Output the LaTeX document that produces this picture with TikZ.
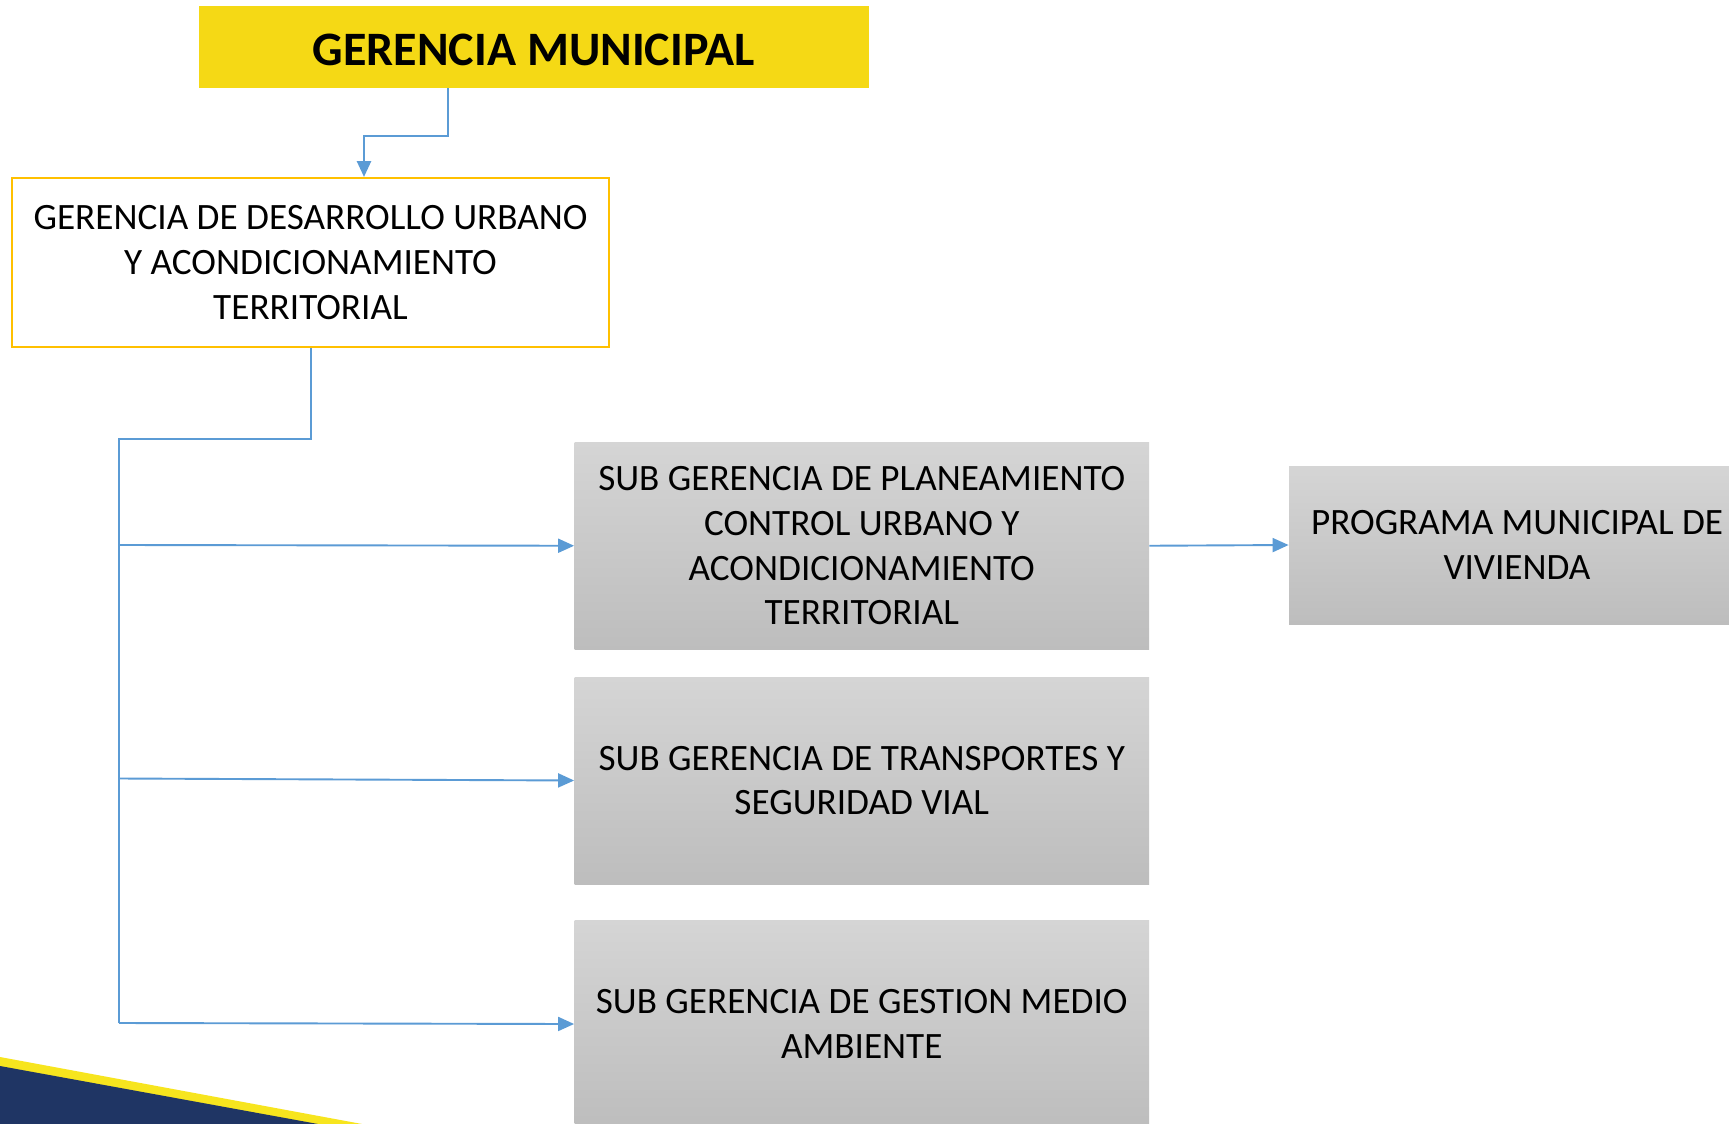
\documentclass[tikz,border=0pt]{standalone}
\usepackage{fontspec}
\setmainfont{Carlito}
\usetikzlibrary{arrows.meta}
\definecolor{gmyellow}{HTML}{F5D915}
\definecolor{gduborder}{HTML}{FFC000}
\definecolor{conn}{HTML}{5B9BD5}
\definecolor{navy}{HTML}{1F3564}
\definecolor{stripe}{HTML}{F7E51E}
\definecolor{graytop}{HTML}{D5D5D5}
\definecolor{graybot}{HTML}{BDBDBD}
\tikzset{
  txt/.style={font=\fontsize{18.6}{22.4}\selectfont, align=center, text=black, inner sep=0pt,
     execute at begin node={\rule{0pt}{18pt}}},
  gmbox/.style={fill=gmyellow, draw=none, minimum width=335pt, minimum height=41pt, inner sep=0pt,
     font=\fontsize{24}{30}\selectfont\bfseries, execute at begin node={\rule{0pt}{18.5pt}}},
  gdubox/.style={txt, draw=gduborder, line width=1pt, fill=white, minimum width=298.5pt, minimum height=84.5pt},
  sgbox/.style={txt, top color=graytop, bottom color=graybot, draw=none, minimum width=287.25pt},
  wire/.style={draw=conn, line width=0.95pt},
  thinwire/.style={draw=conn, line width=0.6pt},
  arr/.style={wire, -{Triangle[length=8pt,width=7pt]}}
}
\begin{document}
\begin{tikzpicture}[x=0.5pt,y=-0.5pt]
\useasboundingbox (0,0) rectangle (1729,1124);
\clip (0,0) rectangle (1729,1124);
\fill[white] (0,0) rectangle (1729,1124);

% decorative corner
\fill[stripe] (0,1057) -- (362,1124) -- (0,1124) -- cycle;
\fill[navy] (0,1066) -- (318,1124) -- (0,1124) -- cycle;

\node[gmbox] (gm) at (533.75,47) {GERENCIA MUNICIPAL};
\node[gdubox] (gdu) at (310.5,262.5) {GERENCIA DE DESARROLLO URBANO\\Y ACONDICIONAMIENTO\\TERRITORIAL};
\node[sgbox, minimum height=103.75pt] (sg1) at (861.75,545.75) {SUB GERENCIA DE PLANEAMIENTO\\CONTROL URBANO Y\\ACONDICIONAMIENTO\\TERRITORIAL};
\node[sgbox, minimum height=103.5pt] (sg2) at (861.75,780.5) {SUB GERENCIA DE TRANSPORTES Y\\SEGURIDAD VIAL};
\node[sgbox, minimum height=104pt] (sg3) at (861.75,1024) {SUB GERENCIA DE GESTION MEDIO\\AMBIENTE};
\node[sgbox, minimum width=228pt, minimum height=79pt] (pmv) at (1517,545) {PROGRAMA MUNICIPAL DE\\VIVIENDA};

% top connector
\coordinate (k1) at (448,136);
\coordinate (k2) at (364,136);
\draw[arr, line width=1.3pt] (gm.south -| k1) -- (k1) -- (k2) -- (gdu.north -| k2);

% bus
\coordinate (b1) at (311,439);
\coordinate (b2) at (119,439);
\coordinate (b3) at (119,1023);
\draw[thinwire] (gdu.south -| b1) -- (b1) -- (b2) -- (b3);
\coordinate (t1) at (119,545);
\coordinate (t2) at (119,778.5);
\draw[arr] (t1) -- (sg1.west);
\draw[arr] (t2) -- (sg2.west);
\draw[arr] (b3) -- (sg3.west);
\draw[arr] (sg1.east) -- (pmv.west);
\end{tikzpicture}
\end{document}
